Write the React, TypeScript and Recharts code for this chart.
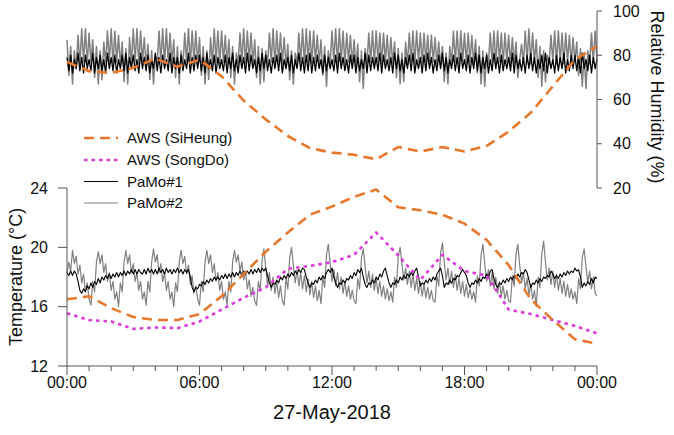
import React from 'react';
import { LineChart, Line, XAxis, YAxis } from 'recharts';

// ---------- data ----------
const HOURS = [0, 1, 2, 3, 4, 5, 6, 7, 8, 9, 10, 11, 12, 13, 14, 15, 16, 17, 18, 19, 20, 21, 22, 23, 24];

const AWS_SIHEUNG_T = [16.5, 16.7, 15.9, 15.3, 15.1, 15.1, 15.5, 16.7, 18.2, 19.7, 21.0, 22.2, 22.75, 23.4, 23.9, 22.7, 22.5, 22.2, 21.6, 20.5, 18.8, 16.5, 15.1, 13.8, 13.5];
const AWS_SONGDO_T = [15.55, 15.1, 15.0, 14.5, 14.6, 14.55, 15.0, 15.8, 16.6, 17.3, 18.55, 18.75, 19.0, 19.5, 21.0, 19.45, 17.8, 19.5, 18.4, 18.1, 15.8, 15.5, 15.1, 14.7, 14.2];
const AWS_SIHEUNG_RH = [77, 72.8, 72, 74.3, 78.5, 74.8, 78, 70.5, 59.5, 51, 43.5, 38, 36, 35, 33, 38.5, 36.5, 38.5, 36.5, 39, 45.5, 54, 66, 78, 84];

// PaMo sensors, one value every 5 minutes from 00:00 to 24:00
const PAMO_STEP_MIN = 5;

const PAMO1_T = [
  18.3, 18.1, 18.4, 18.1, 18.4, 18.2, 17.7, 17.1, 16.9, 17.2, 17.0, 17.4,
  17.2, 17.6, 17.3, 17.7, 17.5, 17.9, 17.6, 18.0, 17.8, 18.1, 17.9, 18.2,
  17.9, 18.2, 18.0, 18.3, 18.0, 18.3, 18.1, 18.4, 18.1, 18.4, 18.2, 18.5,
  18.2, 18.5, 18.2, 18.5, 18.3, 18.2, 18.5, 18.2, 18.6, 18.3, 18.5, 18.2,
  18.5, 18.2, 18.6, 18.3, 18.5, 18.2, 18.6, 18.3, 18.5, 18.2, 18.5, 18.3,
  18.6, 18.3, 18.5, 18.2, 18.5, 18.3, 18.5, 18.0, 17.3, 17.0, 17.3, 17.2,
  17.5, 17.4, 17.7, 17.5, 17.8, 17.6, 17.9, 17.7, 18.0, 17.8, 18.0, 17.8,
  18.1, 17.9, 18.2, 17.9, 18.2, 18.0, 18.3, 18.0, 18.3, 18.1, 18.4, 18.1,
  18.4, 18.2, 18.4, 18.2, 18.5, 18.2, 18.5, 18.3, 18.6, 18.3, 18.6, 18.4,
  18.6, 18.1, 17.6, 17.3, 17.6, 17.5, 17.8, 17.6, 18.0, 17.8, 18.1, 17.9,
  18.2, 18.0, 18.3, 18.1, 18.4, 18.2, 18.5, 18.3, 18.6, 18.5, 18.0, 17.6,
  17.3, 17.6, 17.5, 17.8, 17.6, 18.0, 17.8, 18.1, 17.9, 18.3, 18.5, 18.3,
  18.6, 18.0, 17.6, 17.3, 17.6, 17.5, 17.8, 17.6, 17.9, 17.8, 18.1, 17.9,
  18.3, 18.1, 18.5, 18.3, 18.6, 18.0, 17.5, 17.3, 17.6, 17.5, 17.8, 17.6,
  18.0, 17.8, 18.2, 18.0, 18.4, 18.6, 18.1, 17.6, 17.3, 17.6, 17.5, 17.8,
  17.6, 18.0, 17.8, 18.1, 17.9, 18.2, 18.0, 18.3, 18.1, 18.4, 18.6, 18.0,
  17.4, 17.6, 17.5, 17.8, 17.6, 17.9, 17.7, 18.0, 17.8, 18.2, 18.4, 18.6,
  18.1, 17.3, 17.6, 17.5, 17.8, 17.6, 17.9, 17.8, 18.1, 18.0, 18.3, 18.5,
  18.3, 18.1, 17.6, 17.3, 17.6, 17.5, 17.8, 17.6, 17.9, 17.7, 18.0, 17.9,
  18.2, 18.0, 18.4, 18.5, 17.9, 17.5, 17.3, 17.6, 17.5, 17.8, 17.6, 17.9,
  17.7, 18.0, 17.8, 18.1, 17.9, 18.2, 18.0, 18.3, 18.2, 18.5, 18.3, 17.8,
  17.3, 17.6, 17.5, 17.8, 17.6, 17.9, 17.7, 18.0, 17.9, 18.1, 18.0, 18.4,
  18.2, 17.9, 18.1, 17.9, 18.2, 18.0, 18.3, 18.1, 18.4, 18.2, 18.4, 18.3,
  18.6, 18.4, 18.5, 18.0, 17.3, 17.6, 17.4, 17.7, 17.5, 17.9, 17.6, 18.0,
  17.9,
];

const PAMO2_T = [
  18.3, 19.0, 18.4, 19.8,
  18.9, 19.4, 18.2, 18.8, 17.6, 18.2, 17.0, 17.6, 16.5, 16.1,
  17.7, 17.0, 19.0, 19.7,
  18.9, 19.5, 18.3, 18.9, 17.7, 18.3, 17.1, 17.7, 16.5, 17.0, 16.0,
  17.6, 17.0, 19.0, 19.8,
  18.9, 19.5, 18.3, 18.9, 17.7, 18.3, 17.1, 17.7, 16.5, 17.0, 16.1,
  17.7, 17.0, 19.0, 19.9,
  19.0, 19.5, 18.3, 18.9, 17.7, 18.3, 17.1, 17.7, 16.5, 17.0, 16.0,
  17.6, 17.0, 19.0, 19.8,
  18.9, 19.4, 18.2, 18.8, 17.5, 18.1, 16.9, 17.4, 16.5, 16.1,
  17.7, 17.0, 19.0, 19.8,
  18.9, 19.5, 18.3, 18.9, 17.7, 18.3, 17.1, 17.7, 16.5, 17.0, 16.1,
  17.7, 17.0, 19.0, 19.8,
  19.0, 19.5, 18.4, 19.0, 17.8, 18.4, 17.2, 17.8, 16.7, 17.3, 16.4, 16.1,
  17.7, 17.1, 19.1, 19.9,
  18.6, 17.4, 18.3, 17.1, 18.0, 16.9, 17.7, 16.6, 17.4, 16.4, 16.1,
  17.9, 17.2, 19.3, 20.0,
  18.8, 17.6, 18.5, 17.4, 18.3, 17.2, 18.1, 17.0, 17.9, 16.8, 17.7, 16.6, 17.4, 16.4, 17.1, 16.2,
  18.0, 17.3, 19.5, 20.2,
  18.9, 17.7, 18.5, 17.4, 18.3, 17.2, 18.0, 16.9, 17.7, 16.7, 17.4, 16.5, 17.1, 16.4, 16.2,
  17.9, 17.2, 19.3, 19.9,
  18.7, 17.6, 18.4, 17.3, 18.2, 17.1, 17.9, 16.9, 17.7, 16.7, 17.4, 16.5, 17.2, 16.4, 17.0, 16.3,
  18.0, 17.3, 19.4, 20.0,
  18.9, 17.8, 18.6, 17.5, 18.4, 17.3, 18.2, 17.1, 17.9, 16.9, 17.7, 16.7, 17.5, 16.6, 17.3, 16.5, 17.1, 16.4, 16.3,
  18.1, 17.4, 19.6, 20.3,
  19.0, 17.8, 18.6, 17.5, 18.4, 17.3, 18.2, 17.1, 17.9, 16.9, 17.7, 16.7, 17.5, 16.6, 17.2, 16.5, 17.0, 16.3,
  18.1, 17.4, 19.5, 20.2,
  18.9, 17.7, 18.5, 17.4, 18.3, 17.2, 18.0, 16.9, 17.7, 16.7, 17.4, 16.5, 17.1, 16.4, 16.3,
  18.1, 17.4, 19.6, 20.2,
  18.8, 17.6, 18.3, 17.2, 17.9, 16.8, 17.5, 16.5, 17.1, 16.0,
  18.0, 17.3, 19.6, 20.4,
  19.0, 17.8, 18.6, 17.5, 18.4, 17.3, 18.2, 17.1, 17.9, 16.9, 17.7, 16.7, 17.5, 16.6, 17.2, 16.5, 17.0, 16.2,
  17.9, 17.2, 19.3, 19.9,
  18.7, 17.6, 18.4, 17.2, 18.0, 16.9, 16.7,
];

const PAMO1_RH = [
  79, 73, 80, 72, 78, 74, 81, 73, 79, 72, 80, 74,
  78, 73, 81, 72, 79, 74, 80, 73, 78, 72, 81, 74,
  79, 73, 80, 72, 78, 74, 80, 73, 81, 72, 79, 74,
  80, 73, 78, 72, 81, 74, 79, 73, 80, 72, 78, 74,
  81, 73, 79, 72, 80, 74, 78, 73, 81, 72, 79, 74,
  79, 72, 80, 73, 78, 74, 81, 72, 79, 73, 80, 74,
  80, 73, 79, 72, 81, 74, 78, 73, 80, 72, 79, 74,
  78, 73, 80, 72, 79, 74, 81, 73, 78, 72, 80, 74,
  79, 72, 81, 73, 80, 74, 78, 72, 79, 73, 81, 74,
  80, 73, 78, 72, 79, 74, 80, 73, 81, 72, 78, 74,
  79, 73, 80, 72, 78, 74, 81, 73, 79, 72, 80, 73,
  81, 72, 79, 73, 80, 74, 78, 72, 80, 73, 79, 74,
  78, 73, 80, 72, 81, 74, 79, 73, 78, 72, 80, 74,
  80, 72, 79, 73, 78, 74, 81, 72, 80, 73, 79, 74,
  79, 73, 81, 72, 80, 74, 78, 73, 79, 72, 81, 74,
  80, 73, 78, 72, 79, 74, 80, 73, 81, 72, 78, 74,
  79, 72, 80, 73, 81, 74, 79, 72, 78, 73, 80, 74,
  81, 73, 79, 72, 78, 74, 80, 73, 79, 72, 81, 74,
  78, 73, 80, 72, 79, 74, 81, 73, 80, 72, 79, 74,
  80, 72, 78, 73, 81, 74, 79, 72, 80, 73, 78, 74,
  79, 73, 81, 72, 80, 74, 78, 73, 79, 72, 80, 74,
  81, 73, 79, 72, 78, 74, 80, 73, 81, 72, 79, 74,
  78, 72, 80, 73, 79, 74, 81, 72, 78, 73, 80, 74,
  80, 73, 79, 72, 81, 74, 78, 73, 80, 72, 79, 74,
  78,
];

const PAMO2_RH = [
  87, 71, 84, 67, 82, 74, 89, 76, 92, 77, 92, 76,
  90, 77, 87, 70, 84, 67, 82, 69, 86, 76, 91, 77,
  92, 76, 91, 77, 89, 76, 86, 68, 83, 67, 88, 76,
  92, 77, 92, 76, 91, 77, 88, 75, 85, 69, 82, 67,
  80, 76, 91, 77, 92, 76, 92, 77, 90, 76, 87, 70,
  84, 67, 82, 75, 90, 77, 92, 76, 91, 77, 91, 76,
  88, 71, 84, 67, 82, 69, 88, 76, 92, 77, 91, 76,
  91, 77, 89, 76, 87, 70, 84, 67, 81, 76, 90, 77,
  92, 76, 91, 77, 90, 76, 87, 70, 84, 67, 83, 68,
  82, 76, 90, 77, 92, 76, 91, 77, 90, 76, 88, 75,
  85, 69, 82, 67, 81, 76, 90, 77, 92, 76, 92, 77,
  91, 76, 91, 77, 89, 76, 87, 71, 84, 66, 82, 76,
  91, 77, 92, 76, 92, 77, 91, 76, 90, 77, 89, 76,
  87, 75, 85, 68, 82, 65, 83, 76, 90, 77, 91, 76,
  91, 77, 90, 76, 90, 77, 89, 76, 88, 76, 86, 70,
  83, 67, 81, 68, 86, 76, 90, 77, 91, 76, 91, 77,
  90, 76, 90, 77, 89, 76, 89, 77, 88, 76, 86, 75,
  84, 68, 81, 67, 84, 76, 91, 77, 91, 76, 91, 77,
  90, 76, 90, 77, 89, 76, 87, 72, 84, 67, 82, 66,
  81, 76, 90, 77, 91, 76, 91, 77, 90, 76, 90, 77,
  89, 76, 88, 76, 86, 70, 78, 85, 76, 91, 77, 92,
  76, 90, 77, 87, 70, 84, 66, 82, 68, 80, 76, 89,
  77, 91, 76, 91, 77, 90, 76, 90, 77, 89, 76, 88,
  77, 86, 71, 83, 66, 81, 65, 82, 76, 90, 77, 91,
  78,
];

const T_TICKS = [12, 16, 20, 24];
const RH_TICKS = [20, 40, 60, 80, 100];
const X_MAJOR = [0, 6, 12, 18, 24];
const X_LABELS = ['00:00', '06:00', '12:00', '18:00', '00:00'];

const LEGEND_NAMES = ['AWS (SiHeung)', 'AWS (SongDo)', 'PaMo#1', 'PaMo#2'];

// ---------- styles ----------
const W = 674;
const H = 435;
const FONT = "'Liberation Sans', Arial, Helvetica, sans-serif";
const AXIS = '#555555';
const TXT = '#111111';
const ORANGE = '#E8782C';
const MAGENTA = '#DC3ADC';
const GRAY = '#808080';
const BLACK = '#000000';

const pamoSeries = (vals: number[]) => vals.map((v, i) => ({ t: (i * PAMO_STEP_MIN) / 60, v }));
const hourSeries = (vals: number[]) => vals.map((v, i) => ({ t: HOURS[i], v }));

const dT1 = pamoSeries(PAMO1_T);
const dT2 = pamoSeries(PAMO2_T);
const dRH1 = pamoSeries(PAMO1_RH);
const dRH2 = pamoSeries(PAMO2_RH);
const dSiT = hourSeries(AWS_SIHEUNG_T);
const dSoT = hourSeries(AWS_SONGDO_T);
const dSiRH = hourSeries(AWS_SIHEUNG_RH);

const XTick = (props: any) => {
  const { x, y, payload } = props;
  const idx = X_MAJOR.indexOf(payload.value);
  const major = idx >= 0;
  return (
    <g>
      <line x1={x} x2={x} y1={y} y2={y + (major ? 9 : 5)} stroke={AXIS} strokeWidth={1} />
      {major && (
        <text x={x} y={y + 22} textAnchor="middle" fontSize={16} fontFamily={FONT} fill={TXT}>
          {X_LABELS[idx]}
        </text>
      )}
    </g>
  );
};

const LeftTick = (props: any) => {
  const { x, y, payload } = props;
  return (
    <text x={x} y={y} dy={5.7} textAnchor="end" fontSize={16} fontFamily={FONT} fill={TXT}>
      {payload.value}
    </text>
  );
};

const RightTick = (props: any) => {
  const { x, y, payload } = props;
  return (
    <text x={x} y={y} dy={5.7} textAnchor="start" fontSize={16} fontFamily={FONT} fill={TXT}>
      {payload.value}
    </text>
  );
};

const lineCommon = {
  type: 'linear' as const,
  dataKey: 'v',
  dot: false,
  activeDot: false,
  isAnimationActive: false,
  strokeLinejoin: 'round' as const,
};

export default function App() {
  return (
    <div style={{ position: 'absolute', left: 0, top: 0, width: W, height: H, background: '#fff' }}>
      {/* Relative humidity panel (top) */}
      <div style={{ position: 'absolute', left: 0, top: 0 }}>
        <LineChart width={W} height={H} margin={{ top: 11, right: 0, bottom: 247, left: 67 }}>
          <XAxis xAxisId="x" type="number" dataKey="t" domain={[0, 24]} hide />
          <YAxis
            yAxisId="rh"
            orientation="right"
            width={77}
            domain={[20, 100]}
            ticks={RH_TICKS}
            axisLine={{ stroke: AXIS }}
            tickLine={{ stroke: AXIS }}
            tickSize={5}
            tickMargin={11}
            tick={<RightTick />}
            interval={0}
          />
          <Line {...lineCommon} xAxisId="x" yAxisId="rh" data={dRH2} stroke={GRAY} strokeWidth={1.5} />
          <Line {...lineCommon} xAxisId="x" yAxisId="rh" data={dRH1} stroke={BLACK} strokeWidth={1.3} />
          <Line {...lineCommon} xAxisId="x" yAxisId="rh" data={dSiRH} stroke={ORANGE} strokeWidth={2.6} strokeDasharray="10 6" />
        </LineChart>
      </div>

      {/* Temperature panel (bottom) */}
      <div style={{ position: 'absolute', left: 0, top: 0 }}>
        <LineChart width={W} height={H} margin={{ top: 188, right: 77, bottom: 0, left: 0 }}>
          <XAxis
            xAxisId="x"
            type="number"
            dataKey="t"
            domain={[0, 24]}
            ticks={HOURS}
            interval={0}
            height={69}
            axisLine={{ stroke: AXIS }}
            tickLine={false}
            tickSize={0}
            tickMargin={0}
            tick={<XTick />}
          />
          <YAxis
            yAxisId="t"
            width={67}
            domain={[12, 24]}
            ticks={T_TICKS}
            axisLine={{ stroke: AXIS }}
            tickLine={{ stroke: AXIS }}
            tickSize={9}
            tickMargin={10}
            tick={<LeftTick />}
            interval={0}
          />
          <Line {...lineCommon} xAxisId="x" yAxisId="t" data={dT2} stroke={GRAY} strokeWidth={1.2} />
          <Line {...lineCommon} xAxisId="x" yAxisId="t" data={dT1} stroke={BLACK} strokeWidth={1.1} />
          <Line {...lineCommon} xAxisId="x" yAxisId="t" data={dSoT} stroke={MAGENTA} strokeWidth={2.6} strokeDasharray="3.5 4" />
          <Line {...lineCommon} xAxisId="x" yAxisId="t" data={dSiT} stroke={ORANGE} strokeWidth={2.6} strokeDasharray="10 6" />
        </LineChart>
      </div>

      {/* Titles and legend */}
      <svg width={W} height={H} style={{ position: 'absolute', left: 0, top: 0, pointerEvents: 'none' }}>
        <text transform="translate(21.5,277) rotate(-90)" textAnchor="middle" fontSize={18} fontFamily={FONT} fill={TXT}>
          Temperature (°C)
        </text>
        <text transform="translate(650.5,97) rotate(90)" textAnchor="middle" fontSize={18} fontFamily={FONT} fill={TXT}>
          Relative Humidity (%)
        </text>
        <text x={332} y={419} textAnchor="middle" fontSize={20} fontFamily={FONT} fill={TXT}>
          27-May-2018
        </text>

        <line x1={84} x2={118} y1={138} y2={138} stroke={ORANGE} strokeWidth={2.6} strokeDasharray="10 6" />
        <text x={127} y={143.4} fontSize={15} fontFamily={FONT} fill={TXT}>{LEGEND_NAMES[0]}</text>
        <line x1={84} x2={118} y1={160} y2={160} stroke={MAGENTA} strokeWidth={2.6} strokeDasharray="3.5 4" />
        <text x={127} y={165.4} fontSize={15} fontFamily={FONT} fill={TXT}>{LEGEND_NAMES[1]}</text>
        <line x1={84} x2={118} y1={181.5} y2={181.5} stroke={BLACK} strokeWidth={1} />
        <text x={127} y={186.9} fontSize={15} fontFamily={FONT} fill={TXT}>{LEGEND_NAMES[2]}</text>
        <line x1={84} x2={118} y1={203} y2={203} stroke={GRAY} strokeWidth={1} />
        <text x={127} y={208.4} fontSize={15} fontFamily={FONT} fill={TXT}>{LEGEND_NAMES[3]}</text>
      </svg>
    </div>
  );
}
